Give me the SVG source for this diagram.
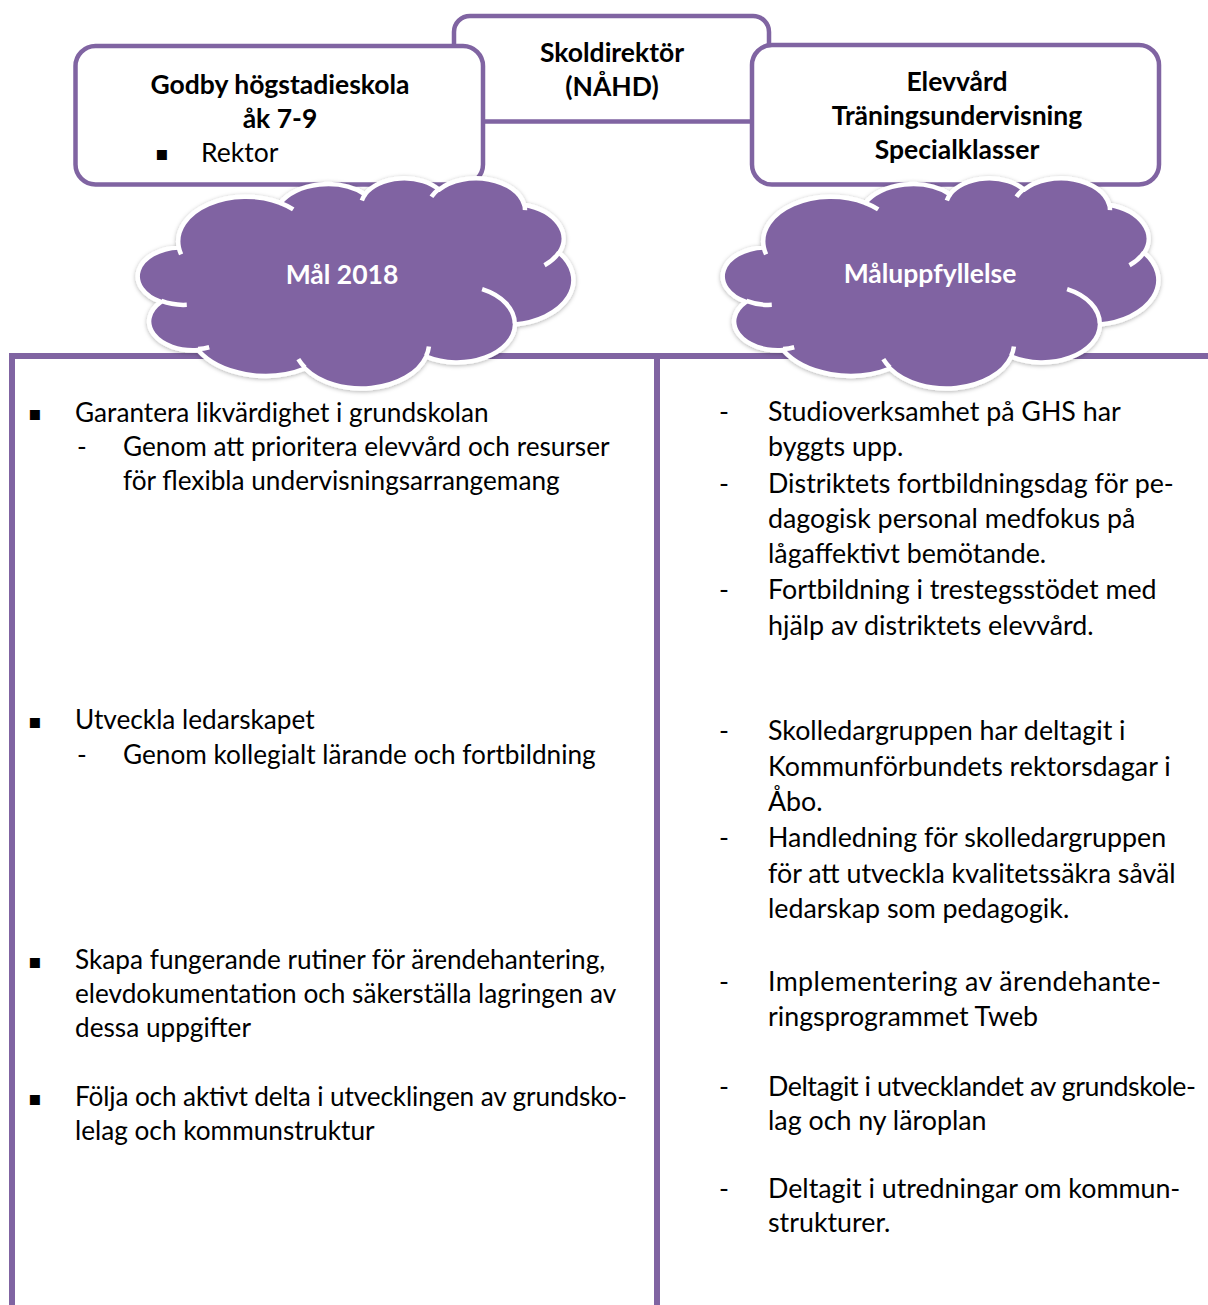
<svg xmlns="http://www.w3.org/2000/svg" xmlns:xlink="http://www.w3.org/1999/xlink" width="1208" height="1305" viewBox="0 0 1208 1305">
<style>
.box{fill:#fff;stroke:#8064A2;stroke-width:4.5}
.frame{stroke:#8064A2;stroke-width:6;fill:none}
.cloud{fill:#8064A2;stroke:#fff;stroke-width:4.5;vector-effect:non-scaling-stroke;stroke-linejoin:round}
.carcs{fill:none;stroke:#fff;stroke-width:4.5;vector-effect:non-scaling-stroke;stroke-linecap:butt}
.t{font-family:Lato,"Open Sans","Liberation Sans",sans-serif;font-size:26.5px;fill:#000}
.l{font-size:26.2px}
.r{font-size:26.8px}
.b{font-weight:bold}
.c{text-anchor:middle}
.w{fill:#fff}
.blt{font-family:"DejaVu Sans",sans-serif;font-size:20px;fill:#000}
</style>
<defs>
<filter id="glow" x="-10%" y="-10%" width="120%" height="120%">
<feDropShadow dx="0" dy="1" stdDeviation="2" flood-color="#000" flood-opacity="0.3"/>
</filter>
<path id="cloudShape" class="cloud" d="M3900 14370 A6753 9190 0 0 1 14005 5202 A5333 7267 0 0 1 22456 3430 A4365 5945 0 0 1 29834 2481 A4857 6595 0 0 1 38319 5577 A5333 7273 0 0 1 41819 15461 A6775 9220 0 0 1 37404 30213 A5785 7867 0 0 1 28555 36823 A6752 9215 0 0 1 16480 39275 A7720 10543 0 0 1 5804 35480 A4360 5918 0 0 1 2113 25558 A4345 5945 0 0 1 3900 14370 Z"/>
<path id="cloudArcs" class="carcs" d="M4693 26177 A4345 5945 0 0 1 2160 25380 M6928 34899 A4360 5918 0 0 1 5820 35281 M16478 39090 A6752 9215 0 0 1 15810 37349 M28827 34751 A6752 9215 0 0 1 28560 36660 M34129 22954 A5785 7867 0 0 1 37381 30090 M41798 15354 A5333 7273 0 0 1 40349 18031 M38324 5426 A4857 6595 0 0 1 38400 6690 M29078 3952 A4857 6595 0 0 1 29821 2338 M22141 4720 A4365 5945 0 0 1 22500 3330 M14000 5192 A6753 9190 0 0 1 15301 6542 M4127 15789 A6753 9190 0 0 1 3900 14372"/>
</defs>

<g id="node-skoldirektor">
<rect class="box" x="454" y="16" width="315" height="105.5" rx="16"/>
<text class="t b c" x="612" y="62">Skoldirektör</text>
<text class="t b c" x="612" y="96">(NÅHD)</text>
</g>

<g id="node-godby">
<rect class="box" x="75.5" y="46" width="407.5" height="138.5" rx="20"/>
<text class="t b c" x="280" y="94">Godby högstadieskola</text>
<text class="t b c" x="280" y="128">åk 7-9</text>
<text class="blt" x="155" y="160">▪</text>
<text class="t" x="201" y="162">Rektor</text>
</g>

<g id="node-elevvard">
<rect class="box" x="752" y="45" width="407" height="139.5" rx="20"/>
<text class="t b c" x="957" y="91">Elevvård</text>
<text class="t b c" x="957" y="125">Träningsundervisning</text>
<text class="t b c" x="957" y="159">Specialklasser</text>
</g>

<g id="connectors">
<line class="frame" x1="9" y1="356" x2="1208" y2="356"/>
<line class="frame" x1="12" y1="353" x2="12" y2="1305"/>
<line class="frame" x1="657" y1="356" x2="657" y2="1305"/>
</g>

<g id="node-mal2018">
<g filter="url(#glow)">
<use xlink:href="#cloudShape" transform="translate(139.7 177.6) scale(0.010033 0.004861)"/>
</g>
<use xlink:href="#cloudArcs" transform="translate(139.7 177.6) scale(0.010033 0.004861)"/>
<text class="t b c w" x="342" y="284">Mål 2018</text>
</g>

<g id="node-maluppfyllelse">
<g filter="url(#glow)">
<use xlink:href="#cloudShape" transform="translate(724.7 177.6) scale(0.010033 0.004861)"/>
</g>
<use xlink:href="#cloudArcs" transform="translate(724.7 177.6) scale(0.010033 0.004861)"/>
<text class="t b c w" x="930" y="283">Måluppfyllelse</text>
</g>

<g id="node-mal-list">
<text class="blt" x="28" y="420">▪</text>
<text class="t l" x="75" y="422">Garantera likvärdighet i grundskolan</text>
<text class="t l" x="77" y="456">-</text>
<text class="t l" x="123" y="456">Genom att prioritera elevvård och resurser</text>
<text class="t l" x="123" y="490">för flexibla undervisningsarrangemang</text>

<text class="blt" x="28" y="728">▪</text>
<text class="t l" x="75" y="729">Utveckla ledarskapet</text>
<text class="t l" x="77" y="764">-</text>
<text class="t l" x="123" y="764">Genom kollegialt lärande och fortbildning</text>

<text class="blt" x="28" y="968">▪</text>
<text class="t l" x="75" y="969">Skapa fungerande rutiner för ärendehantering,</text>
<text class="t l" x="75" y="1003">elevdokumentation och säkerställa lagringen av</text>
<text class="t l" x="75" y="1037">dessa uppgifter</text>

<text class="blt" x="28" y="1105">▪</text>
<text class="t l" x="75" y="1106" textLength="552">Följa och aktivt delta i utvecklingen av grundsko-</text>
<text class="t l" x="75" y="1140">lelag och kommunstruktur</text>
</g>

<g id="node-maluppfyllelse-list">
<text class="t r" x="719" y="421">-</text>
<text class="t r" x="768" y="421">Studioverksamhet på GHS har</text>
<text class="t r" x="768" y="456">byggts upp.</text>
<text class="t r" x="719" y="493">-</text>
<text class="t r" x="768" y="493">Distriktets fortbildningsdag för pe-</text>
<text class="t r" x="768" y="528">dagogisk personal medfokus på</text>
<text class="t r" x="768" y="563">lågaffektivt bemötande.</text>
<text class="t r" x="719" y="599">-</text>
<text class="t r" x="768" y="599">Fortbildning i trestegsstödet med</text>
<text class="t r" x="768" y="635">hjälp av distriktets elevvård.</text>

<text class="t r" x="719" y="740">-</text>
<text class="t r" x="768" y="740">Skolledargruppen har deltagit i</text>
<text class="t r" x="768" y="776">Kommunförbundets rektorsdagar i</text>
<text class="t r" x="768" y="811">Åbo.</text>
<text class="t r" x="719" y="847">-</text>
<text class="t r" x="768" y="847">Handledning för skolledargruppen</text>
<text class="t r" x="768" y="883">för att utveckla kvalitetssäkra såväl</text>
<text class="t r" x="768" y="918">ledarskap som pedagogik.</text>

<text class="t r" x="719" y="991">-</text>
<text class="t r" x="768" y="991" textLength="393">Implementering av ärendehante-</text>
<text class="t r" x="768" y="1026">ringsprogrammet Tweb</text>

<text class="t r" x="719" y="1096">-</text>
<text class="t r" x="768" y="1096" textLength="428">Deltagit i utvecklandet av grundskole-</text>
<text class="t r" x="768" y="1130">lag och ny läroplan</text>

<text class="t r" x="719" y="1198">-</text>
<text class="t r" x="768" y="1198">Deltagit i utredningar om kommun-</text>
<text class="t r" x="768" y="1232">strukturer.</text>
</g>
</svg>
